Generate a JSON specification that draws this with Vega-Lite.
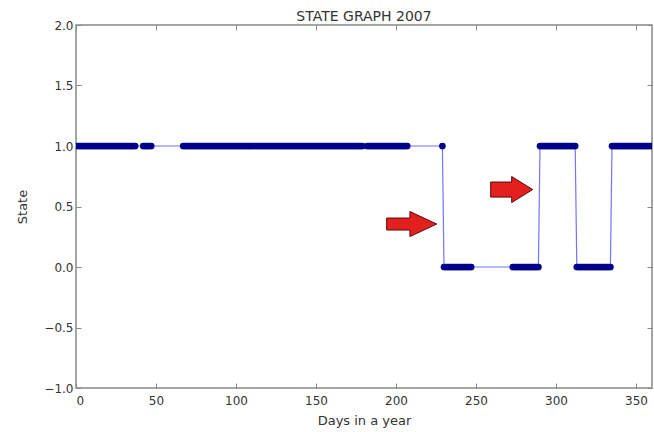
{
"$schema":"https://vega.github.io/schema/vega-lite/v6.json",
"autosize":{"type":"none"},
"padding":{"left":76,"top":25,"right":2,"bottom":44},
"width":576,"height":363,
"config":{"font":"DejaVu Sans","view":{"stroke":"#888","strokeWidth":1.5},"axis":{"grid":false,"domain":false,"labelFont":"DejaVu Sans","titleFont":"DejaVu Sans","labelFontSize":12,"titleFontSize":13,"labelColor":"#333","titleColor":"#333","titleFontWeight":"normal","tickColor":"#888"}},
"title":{"text":"STATE GRAPH 2007","fontSize":14,"fontWeight":"normal","color":"#333","font":"DejaVu Sans","offset":-5},
"resolve":{"axis":{"x":"independent","y":"independent"}},
"datasets":{
"main":[
{"d":0,"s":1},{"d":1,"s":1},{"d":2,"s":1},{"d":3,"s":1},{"d":4,"s":1},{"d":5,"s":1},{"d":6,"s":1},{"d":7,"s":1},{"d":8,"s":1},{"d":9,"s":1},
{"d":10,"s":1},{"d":11,"s":1},{"d":12,"s":1},{"d":13,"s":1},{"d":14,"s":1},{"d":15,"s":1},{"d":16,"s":1},{"d":17,"s":1},{"d":18,"s":1},{"d":19,"s":1},
{"d":20,"s":1},{"d":21,"s":1},{"d":22,"s":1},{"d":23,"s":1},{"d":24,"s":1},{"d":25,"s":1},{"d":26,"s":1},{"d":27,"s":1},{"d":28,"s":1},{"d":29,"s":1},
{"d":30,"s":1},{"d":31,"s":1},{"d":32,"s":1},{"d":33,"s":1},{"d":34,"s":1},{"d":35,"s":1},{"d":36,"s":1},{"d":37,"s":1},
{"d":42,"s":1},{"d":43,"s":1},{"d":44,"s":1},{"d":45,"s":1},{"d":46,"s":1},{"d":47,"s":1},
{"d":67,"s":1},{"d":68,"s":1},{"d":69,"s":1},
{"d":70,"s":1},{"d":71,"s":1},{"d":72,"s":1},{"d":73,"s":1},{"d":74,"s":1},{"d":75,"s":1},{"d":76,"s":1},{"d":77,"s":1},{"d":78,"s":1},{"d":79,"s":1},
{"d":80,"s":1},{"d":81,"s":1},{"d":82,"s":1},{"d":83,"s":1},{"d":84,"s":1},{"d":85,"s":1},{"d":86,"s":1},{"d":87,"s":1},{"d":88,"s":1},{"d":89,"s":1},
{"d":90,"s":1},{"d":91,"s":1},{"d":92,"s":1},{"d":93,"s":1},{"d":94,"s":1},{"d":95,"s":1},{"d":96,"s":1},{"d":97,"s":1},{"d":98,"s":1},{"d":99,"s":1},
{"d":100,"s":1},{"d":101,"s":1},{"d":102,"s":1},{"d":103,"s":1},{"d":104,"s":1},{"d":105,"s":1},{"d":106,"s":1},{"d":107,"s":1},{"d":108,"s":1},{"d":109,"s":1},
{"d":110,"s":1},{"d":111,"s":1},{"d":112,"s":1},{"d":113,"s":1},{"d":114,"s":1},{"d":115,"s":1},{"d":116,"s":1},{"d":117,"s":1},{"d":118,"s":1},{"d":119,"s":1},
{"d":120,"s":1},{"d":121,"s":1},{"d":122,"s":1},{"d":123,"s":1},{"d":124,"s":1},{"d":125,"s":1},{"d":126,"s":1},{"d":127,"s":1},{"d":128,"s":1},{"d":129,"s":1},
{"d":130,"s":1},{"d":131,"s":1},{"d":132,"s":1},{"d":133,"s":1},{"d":134,"s":1},{"d":135,"s":1},{"d":136,"s":1},{"d":137,"s":1},{"d":138,"s":1},{"d":139,"s":1},
{"d":140,"s":1},{"d":141,"s":1},{"d":142,"s":1},{"d":143,"s":1},{"d":144,"s":1},{"d":145,"s":1},{"d":146,"s":1},{"d":147,"s":1},{"d":148,"s":1},{"d":149,"s":1},
{"d":150,"s":1},{"d":151,"s":1},{"d":152,"s":1},{"d":153,"s":1},{"d":154,"s":1},{"d":155,"s":1},{"d":156,"s":1},{"d":157,"s":1},{"d":158,"s":1},{"d":159,"s":1},
{"d":160,"s":1},{"d":161,"s":1},{"d":162,"s":1},{"d":163,"s":1},{"d":164,"s":1},{"d":165,"s":1},{"d":166,"s":1},{"d":167,"s":1},{"d":168,"s":1},{"d":169,"s":1},
{"d":170,"s":1},{"d":171,"s":1},{"d":172,"s":1},{"d":173,"s":1},{"d":174,"s":1},{"d":175,"s":1},{"d":176,"s":1},{"d":177,"s":1},{"d":178,"s":1},{"d":179,"s":1},
{"d":182,"s":1},{"d":183,"s":1},{"d":184,"s":1},{"d":185,"s":1},{"d":186,"s":1},{"d":187,"s":1},{"d":188,"s":1},{"d":189,"s":1},
{"d":190,"s":1},{"d":191,"s":1},{"d":192,"s":1},{"d":193,"s":1},{"d":194,"s":1},{"d":195,"s":1},{"d":196,"s":1},{"d":197,"s":1},{"d":198,"s":1},{"d":199,"s":1},
{"d":200,"s":1},{"d":201,"s":1},{"d":202,"s":1},{"d":203,"s":1},{"d":204,"s":1},{"d":205,"s":1},{"d":206,"s":1},{"d":207,"s":1},
{"d":229,"s":1},
{"d":230,"s":0},{"d":231,"s":0},{"d":232,"s":0},{"d":233,"s":0},{"d":234,"s":0},{"d":235,"s":0},{"d":236,"s":0},{"d":237,"s":0},{"d":238,"s":0},{"d":239,"s":0},
{"d":240,"s":0},{"d":241,"s":0},{"d":242,"s":0},{"d":243,"s":0},{"d":244,"s":0},{"d":245,"s":0},{"d":246,"s":0},{"d":247,"s":0},
{"d":273,"s":0},{"d":274,"s":0},{"d":275,"s":0},{"d":276,"s":0},{"d":277,"s":0},{"d":278,"s":0},{"d":279,"s":0},
{"d":280,"s":0},{"d":281,"s":0},{"d":282,"s":0},{"d":283,"s":0},{"d":284,"s":0},{"d":285,"s":0},{"d":286,"s":0},{"d":287,"s":0},{"d":288,"s":0},{"d":289,"s":0},
{"d":290,"s":1},{"d":291,"s":1},{"d":292,"s":1},{"d":293,"s":1},{"d":294,"s":1},{"d":295,"s":1},{"d":296,"s":1},{"d":297,"s":1},{"d":298,"s":1},{"d":299,"s":1},
{"d":300,"s":1},{"d":301,"s":1},{"d":302,"s":1},{"d":303,"s":1},{"d":304,"s":1},{"d":305,"s":1},{"d":306,"s":1},{"d":307,"s":1},{"d":308,"s":1},{"d":309,"s":1},
{"d":310,"s":1},{"d":311,"s":1},{"d":312,"s":1},
{"d":313,"s":0},{"d":314,"s":0},{"d":315,"s":0},{"d":316,"s":0},{"d":317,"s":0},{"d":318,"s":0},{"d":319,"s":0},
{"d":320,"s":0},{"d":321,"s":0},{"d":322,"s":0},{"d":323,"s":0},{"d":324,"s":0},{"d":325,"s":0},{"d":326,"s":0},{"d":327,"s":0},{"d":328,"s":0},{"d":329,"s":0},
{"d":330,"s":0},{"d":331,"s":0},{"d":332,"s":0},{"d":333,"s":0},{"d":334,"s":0},
{"d":335,"s":1},{"d":336,"s":1},{"d":337,"s":1},{"d":338,"s":1},{"d":339,"s":1},
{"d":340,"s":1},{"d":341,"s":1},{"d":342,"s":1},{"d":343,"s":1},{"d":344,"s":1},{"d":345,"s":1},{"d":346,"s":1},{"d":347,"s":1},{"d":348,"s":1},{"d":349,"s":1},
{"d":350,"s":1},{"d":351,"s":1},{"d":352,"s":1},{"d":353,"s":1},{"d":354,"s":1},{"d":355,"s":1},{"d":356,"s":1},{"d":357,"s":1},{"d":358,"s":1},{"d":359,"s":1},{"d":360,"s":1}
],
"arrows":[{"d":209.8,"s":0.355,"a":"a1"},{"d":272.3,"s":0.64,"a":"a2"}]
},
"layer":[
{"data":{"name":"main"},"mark":{"type":"line","color":"#7373ff","strokeWidth":1.2,"clip":true},
"encoding":{
"x":{"field":"d","type":"quantitative","scale":{"domain":[0,360],"nice":false,"zero":false},"axis":{"orient":"bottom","title":"Days in a year","values":[0,50,100,150,200,250,300,350],"tickSize":-5,"labelPadding":12,"titlePadding":8}},
"y":{"field":"s","type":"quantitative","scale":{"domain":[-1,2],"nice":false},"axis":{"orient":"left","title":"State","values":[-1,-0.5,0,0.5,1,1.5,2],"format":".1f","tickSize":-5,"labelPadding":8,"titlePadding":14}}}},
{"data":{"name":"main"},"mark":{"type":"point","filled":true,"color":"#00008b","size":45,"opacity":1,"clip":true},
"encoding":{"x":{"field":"d","type":"quantitative","axis":{"orient":"top","title":null,"labels":false,"values":[0,50,100,150,200,250,300,350],"tickSize":-5}},"y":{"field":"s","type":"quantitative","axis":{"orient":"right","title":null,"labels":false,"values":[-1,-0.5,0,0.5,1,1.5,2],"tickSize":-5}}}},
{"data":{"name":"arrows"},"transform":[{"filter":"datum.a==='a1'"}],
"mark":{"type":"point","filled":true,"fill":"#e3201e","stroke":"#5a0a0a","strokeWidth":1,"opacity":1,"fillOpacity":1,"size":2500,"shape":"M-1,-0.24L-0.07,-0.24L-0.07,-0.5L1,0L-0.07,0.5L-0.07,0.24L-1,0.24Z"},
"encoding":{"x":{"field":"d","type":"quantitative","axis":null},"y":{"field":"s","type":"quantitative","axis":null}}},
{"data":{"name":"arrows"},"transform":[{"filter":"datum.a==='a2'"}],
"mark":{"type":"point","filled":true,"fill":"#e3201e","stroke":"#5a0a0a","strokeWidth":1,"opacity":1,"fillOpacity":1,"size":1764,"shape":"M-1,-0.36L0,-0.36L0,-0.62L1,0L0,0.62L0,0.36L-1,0.36Z"},
"encoding":{"x":{"field":"d","type":"quantitative","axis":null},"y":{"field":"s","type":"quantitative","axis":null}}}
]
}
